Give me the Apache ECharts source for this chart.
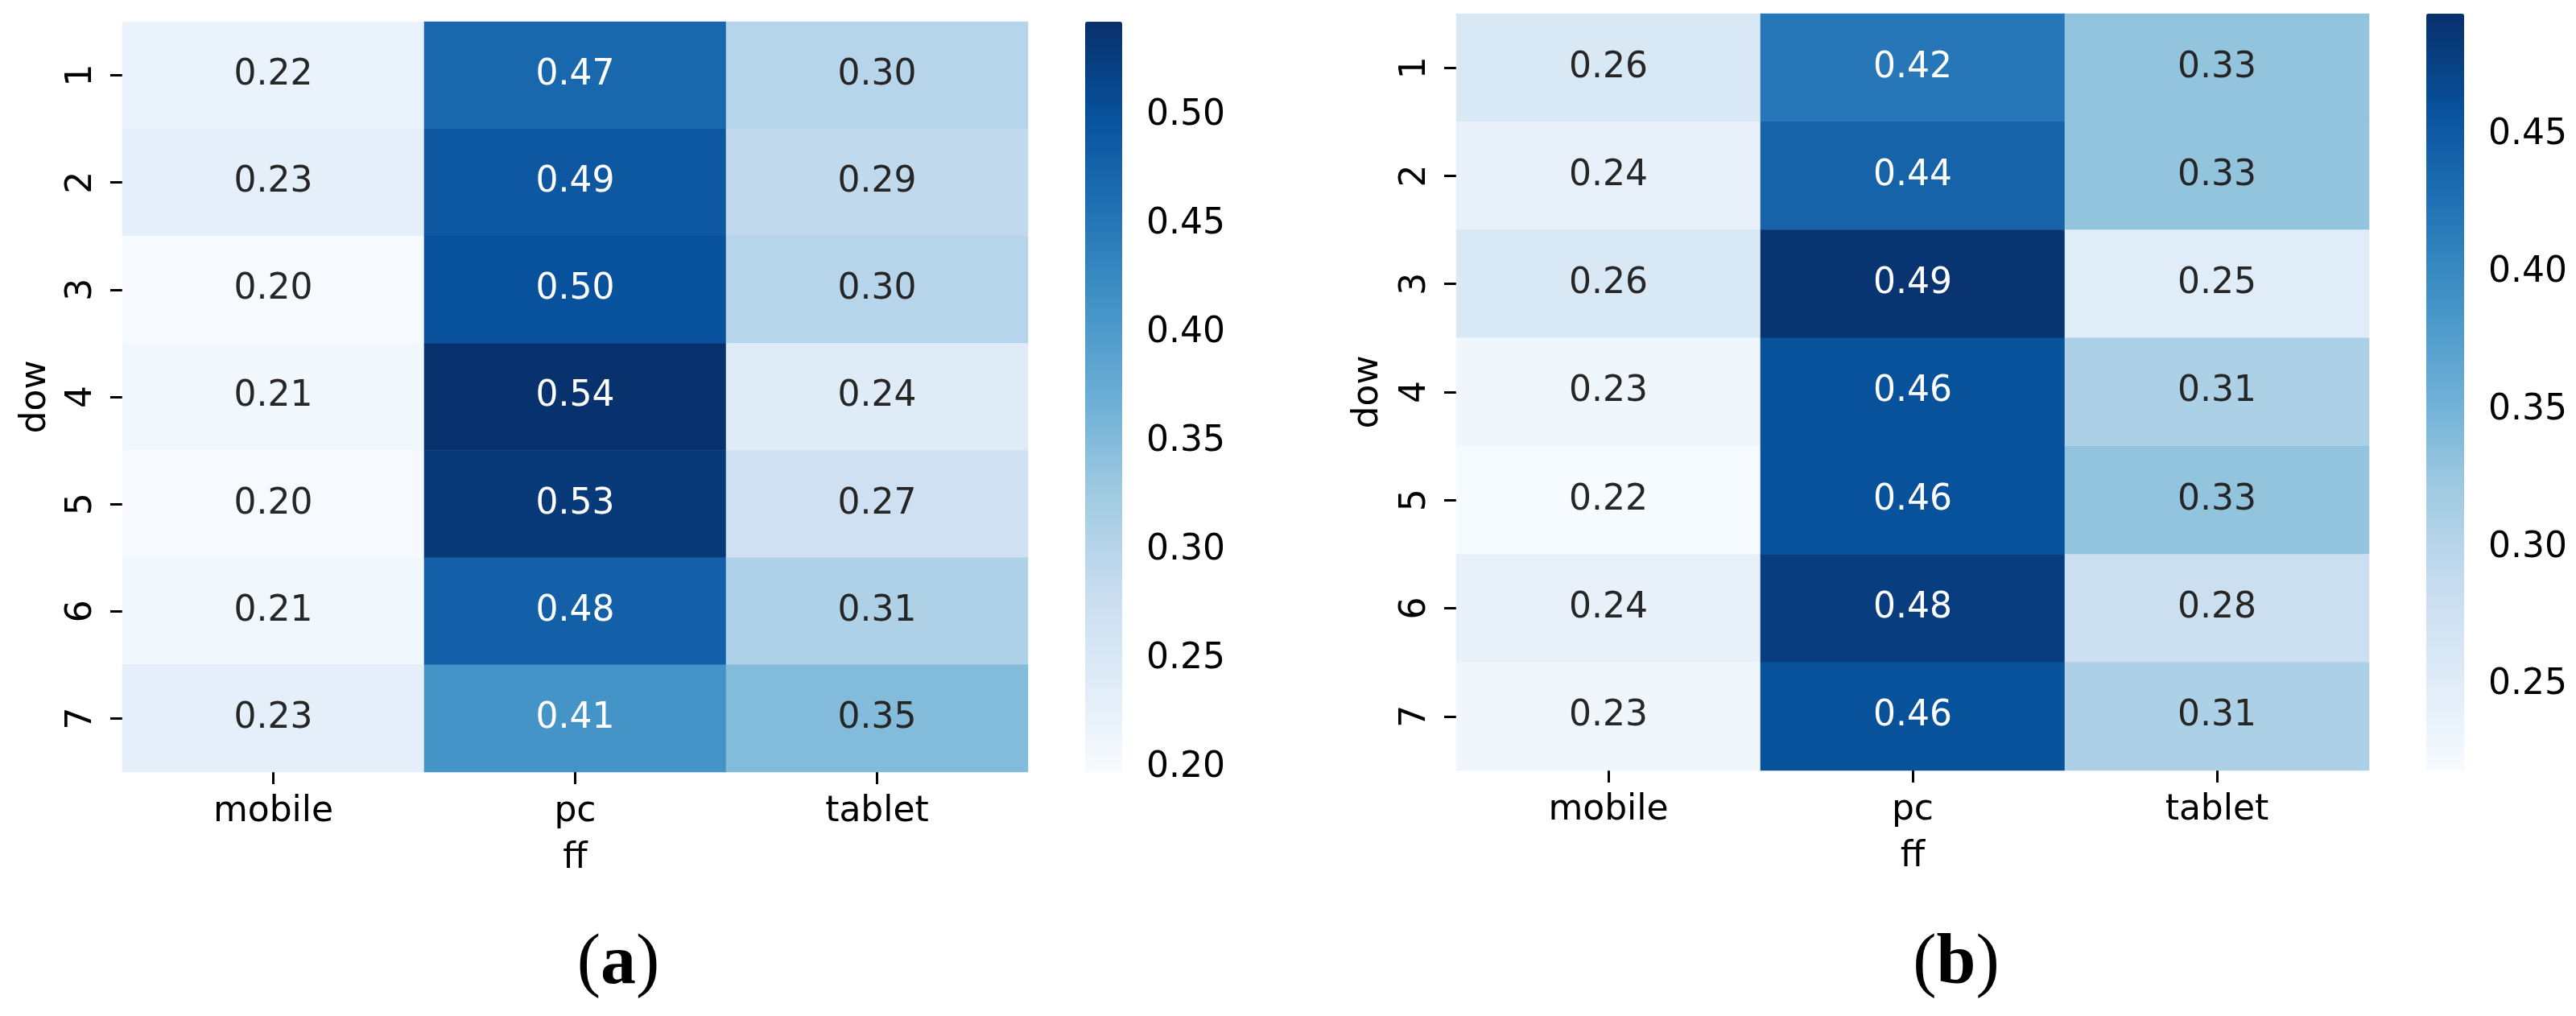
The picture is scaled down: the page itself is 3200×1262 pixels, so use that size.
<!DOCTYPE html>
<html>
<head>
<meta charset="utf-8">
<script src="https://cdn.jsdelivr.net/npm/echarts@6/dist/echarts.min.js"></script>
<style>
html,body{margin:0;padding:0;background:#fff;}
#c{width:3200px;height:1262px;}
</style>
</head>
<body>
<div id="c"></div>
<script>
const days = ['1', '2', '3', '4', '5', '6', '7'];
const devices = ['mobile', 'pc', 'tablet'];

// Panel (a)
const aMobile = [0.22, 0.23, 0.20, 0.21, 0.20, 0.21, 0.23];
const aPc     = [0.47, 0.49, 0.50, 0.54, 0.53, 0.48, 0.41];
const aTablet = [0.30, 0.29, 0.30, 0.24, 0.27, 0.31, 0.35];
// Panel (b)
const bMobile = [0.26, 0.24, 0.26, 0.23, 0.22, 0.24, 0.23];
const bPc     = [0.42, 0.44, 0.49, 0.46, 0.46, 0.48, 0.46];
const bTablet = [0.33, 0.33, 0.25, 0.31, 0.33, 0.28, 0.31];

// Colorbar ranges and tick labels
const cbRangeA = [0.198, 0.543];
const cbRangeB = [0.219, 0.494];
const cbTicksA = [0.20, 0.25, 0.30, 0.35, 0.40, 0.45, 0.50];
const cbTicksB = [0.25, 0.30, 0.35, 0.40, 0.45];

const blues = ['#f7fbff', '#deebf7', '#c6dbef', '#9ecae1', '#6baed6', '#4292c6', '#2171b5', '#08519c', '#08306b'];

function hexToRgb(h) {
  return [parseInt(h.slice(1, 3), 16), parseInt(h.slice(3, 5), 16), parseInt(h.slice(5, 7), 16)];
}
function labelColor(v, range) {
  let t = (v - range[0]) / (range[1] - range[0]);
  t = Math.max(0, Math.min(1, t));
  const p = t * (blues.length - 1);
  const i = Math.min(Math.floor(p), blues.length - 2);
  const f = p - i;
  const c0 = hexToRgb(blues[i]), c1 = hexToRgb(blues[i + 1]);
  const rgb = c0.map((c, k) => (c + (c1[k] - c) * f) / 255);
  const lin = rgb.map(c => c <= 0.03928 ? c / 12.92 : Math.pow((c + 0.055) / 1.055, 2.4));
  const lum = 0.2126 * lin[0] + 0.7152 * lin[1] + 0.0722 * lin[2];
  return lum < 0.408 ? '#ffffff' : '#262626';
}
function buildData(cols, range) {
  const out = [];
  cols.forEach((col, x) => {
    col.forEach((v, y) => {
      out.push({ value: [x, y, v], label: { color: labelColor(v, range) } });
    });
  });
  return out;
}

const FONT = 'DejaVu Sans';
const FS = 44;

function catX(gi) {
  return {
    type: 'category', gridIndex: gi, data: devices, position: 'bottom',
    name: 'ff', nameLocation: 'middle', nameGap: 86,
    nameTextStyle: { fontFamily: FONT, fontSize: FS, color: '#000' },
    axisLine: { show: false },
    axisTick: { show: true, alignWithLabel: true, length: 15, lineStyle: { color: '#000', width: 3 } },
    axisLabel: { fontFamily: FONT, fontSize: FS, color: '#000', margin: 28, interval: 0 },
    splitLine: { show: false }
  };
}
function catY(gi, gap) {
  return {
    type: 'category', gridIndex: gi, data: days, inverse: true,
    name: 'dow', nameLocation: 'middle', nameGap: gap, nameRotate: 90,
    nameTextStyle: { fontFamily: FONT, fontSize: FS, color: '#000' },
    axisLine: { show: false },
    axisTick: { show: true, alignWithLabel: true, length: 15, lineStyle: { color: '#000', width: 3 } },
    axisLabel: { fontFamily: FONT, fontSize: FS, color: '#000', margin: 28, rotate: 90, interval: 0 },
    splitLine: { show: false }
  };
}
function hiddenX(gi) {
  return { type: 'value', gridIndex: gi, show: false, min: 0, max: 1 };
}
function cbY(gi, range, ticks) {
  return {
    type: 'value', gridIndex: gi, position: 'right', min: range[0], max: range[1],
    axisLine: { show: false },
    splitLine: { show: false },
    axisTick: { show: true, length: 16, customValues: ticks, lineStyle: { color: '#000', width: 3 } },
    axisLabel: { show: true, customValues: ticks, fontFamily: FONT, fontSize: FS, color: '#000', margin: 30,
      formatter: v => Number(v).toFixed(2) }
  };
}

const grids = [
  { left: 152, top: 27, width: 1125, height: 932 },
  { left: 1348, top: 27, width: 46, height: 932 },
  { left: 1809, top: 17, width: 1134, height: 940 },
  { left: 3014, top: 17, width: 47, height: 940 }
];

function heat(xi, yi, data) {
  return {
    type: 'heatmap', xAxisIndex: xi, yAxisIndex: yi, data: data,
    label: { show: true, fontFamily: FONT, fontSize: FS, formatter: p => p.value[2].toFixed(2) },
    emphasis: { disabled: true },
    itemStyle: { borderWidth: 0 }
  };
}

const option = {
  backgroundColor: '#ffffff',
  animation: false,
  grid: grids.map(g => Object.assign({ containLabel: false }, g)),
  xAxis: [catX(0), hiddenX(1), catX(2), hiddenX(3)],
  yAxis: [catY(0, 85), cbY(1, cbRangeA, cbTicksA), catY(2, 87), cbY(3, cbRangeB, cbTicksB)],
  visualMap: [
    { type: 'continuous', seriesIndex: 0, min: cbRangeA[0], max: cbRangeA[1], calculable: false,
      left: grids[1].left, top: grids[1].top, itemWidth: grids[1].width, itemHeight: grids[1].height,
      padding: 0, text: null, inRange: { color: blues }, hoverLink: false },
    { type: 'continuous', seriesIndex: 1, min: cbRangeB[0], max: cbRangeB[1], calculable: false,
      left: grids[3].left, top: grids[3].top, itemWidth: grids[3].width, itemHeight: grids[3].height,
      padding: 0, text: null, inRange: { color: blues }, hoverLink: false }
  ],
  graphic: [
    { type: 'text', x: 768, y: 1198, style: { text: '{p|(}{b|a}{p|)}', align: 'center', verticalAlign: 'middle',
      rich: { p: { fontFamily: 'Liberation Serif', fontSize: 88, fill: '#000' },
              b: { fontFamily: 'Liberation Serif', fontSize: 88, fontWeight: 'bold', fill: '#000' } } } },
    { type: 'text', x: 2430, y: 1198, style: { text: '{p|(}{b|b}{p|)}', align: 'center', verticalAlign: 'middle',
      rich: { p: { fontFamily: 'Liberation Serif', fontSize: 88, fill: '#000' },
              b: { fontFamily: 'Liberation Serif', fontSize: 88, fontWeight: 'bold', fill: '#000' } } } }
  ],
  series: [
    heat(0, 0, buildData([aMobile, aPc, aTablet], cbRangeA)),
    heat(2, 2, buildData([bMobile, bPc, bTablet], cbRangeB))
  ]
};

const chart = echarts.init(document.getElementById('c'), null, { renderer: 'canvas' });
chart.setOption(option);
</script>
</body>
</html>
